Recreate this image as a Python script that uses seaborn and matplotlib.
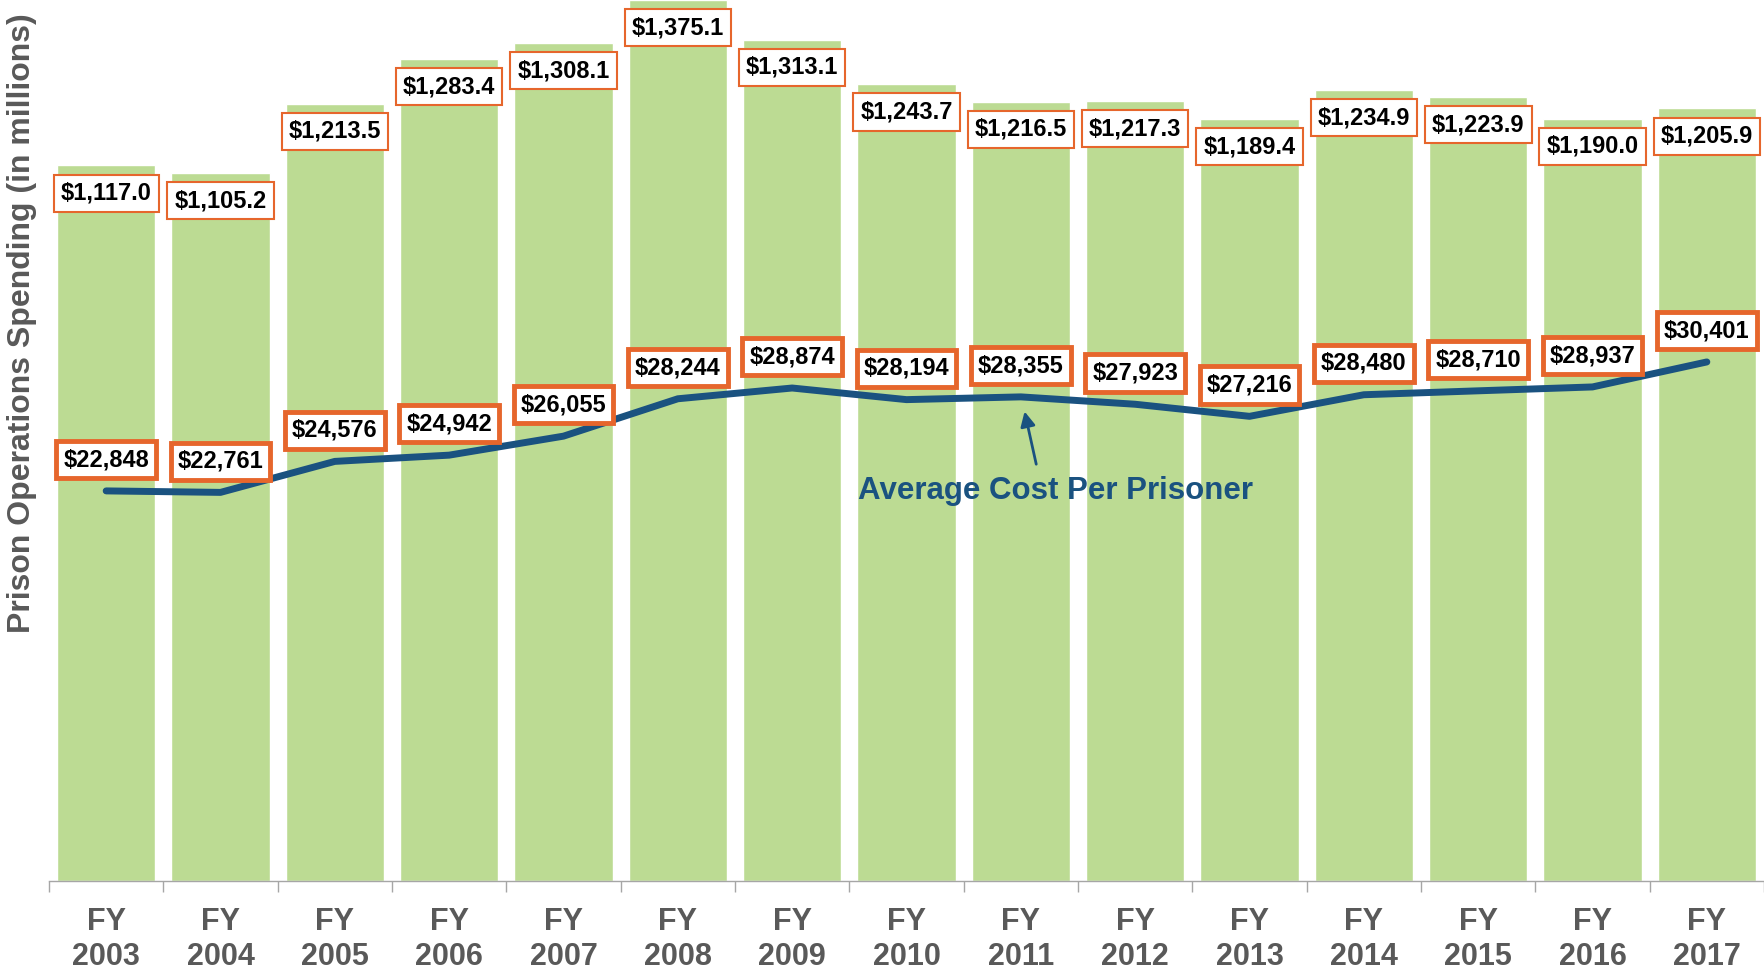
import numpy as np
import pandas as pd
import matplotlib
matplotlib.use('Agg')
import matplotlib.pyplot as plt
import seaborn as sns

sns.set_style('white')
plt.rcParams['font.family'] = ['Liberation Sans', 'DejaVu Sans']

# data
years = ['FY\n2003', 'FY\n2004', 'FY\n2005', 'FY\n2006', 'FY\n2007', 'FY\n2008', 'FY\n2009',
         'FY\n2010', 'FY\n2011', 'FY\n2012', 'FY\n2013', 'FY\n2014', 'FY\n2015', 'FY\n2016', 'FY\n2017']
spending = [1117.0, 1105.2, 1213.5, 1283.4, 1308.1, 1375.1, 1313.1, 1243.7,
            1216.5, 1217.3, 1189.4, 1234.9, 1223.9, 1190.0, 1205.9]
cost_per_prisoner = [22848, 22761, 24576, 24942, 26055, 28244, 28874, 28194,
                     28355, 27923, 27216, 28480, 28710, 28937, 30401]

green = '#BCDB93'
blue = '#1A5280'
orange = '#E6662C'
gray = '#595959'

df = pd.DataFrame({'year': years, 'spending': spending, 'cost': cost_per_prisoner})

fig = plt.figure(figsize=(17.64, 9.75), dpi=100)
ax = fig.add_axes([49 / 1764, 94 / 975, 1 - 49 / 1764, 881 / 975])

sns.barplot(data=df, x='year', y='spending', color=green, saturation=1,
            width=0.86, ax=ax, zorder=1)
ax.set_xlim(-0.5, len(years) - 0.5)
ax.set_ylim(0, 1375.1)

# bar labels (thin orange box)
for i, v in enumerate(spending):
    ax.annotate(f'${v:,.1f}', xy=(i, v), xytext=(0, -20), textcoords='offset points',
                ha='center', va='center', fontsize=17, fontweight='bold', color='black',
                bbox=dict(boxstyle='square,pad=0.3', fc='white', ec=orange, lw=1.5),
                zorder=3)

# ticks between categories
ax.set_xticks(np.arange(-0.5, len(years), 1), minor=True)
ax.tick_params(axis='x', which='minor', length=8, width=1, color='#A6A6A6', bottom=True)
ax.tick_params(axis='x', which='major', length=0, pad=19, labelsize=22, labelcolor=gray)
for lbl in ax.get_xticklabels():
    lbl.set_fontweight('bold')
    lbl.set_linespacing(1.22)
ax.set_yticks([])
ax.set_xlabel('')
ax.set_ylabel('')
for s in ['top', 'right', 'left']:
    ax.spines[s].set_visible(False)
ax.spines['bottom'].set_color('#A6A6A6')
ax.spines['bottom'].set_linewidth(1)

# cost per prisoner line
ax2 = ax.twinx()
sns.lineplot(x=np.arange(len(years)), y=cost_per_prisoner, color=blue, linewidth=5,
             ax=ax2, solid_capstyle='round', zorder=2)
ax2.set_ylim(0, 51600)
ax2.set_yticks([])
for s in ['top', 'right', 'left', 'bottom']:
    ax2.spines[s].set_visible(False)

for i, v in enumerate(cost_per_prisoner):
    ax2.annotate(f'${v:,}', xy=(i, v), xytext=(0, 22.5), textcoords='offset points',
                 ha='center', va='center', fontsize=17, fontweight='bold', color='black',
                 bbox=dict(boxstyle='square,pad=0.3', fc='white', ec=orange, lw=3.5),
                 zorder=4)

ax2.text(0.5866, 0.4427, 'Average Cost Per Prisoner', transform=ax2.transAxes,
         ha='center', va='center', fontsize=22.5, fontweight='bold', color=blue)
ax2.annotate('', xy=(0.5685, 0.536), xytext=(0.576, 0.470), xycoords='axes fraction',
             arrowprops=dict(arrowstyle='-|>', color=blue, lw=2, mutation_scale=22))

fig.text(22 / 1764, 1 - 323 / 975, 'Prison Operations Spending (in millions)',
         rotation=90, ha='center', va='center', fontsize=23, fontweight='bold', color=gray)

fig.savefig('out.png', dpi=100)
